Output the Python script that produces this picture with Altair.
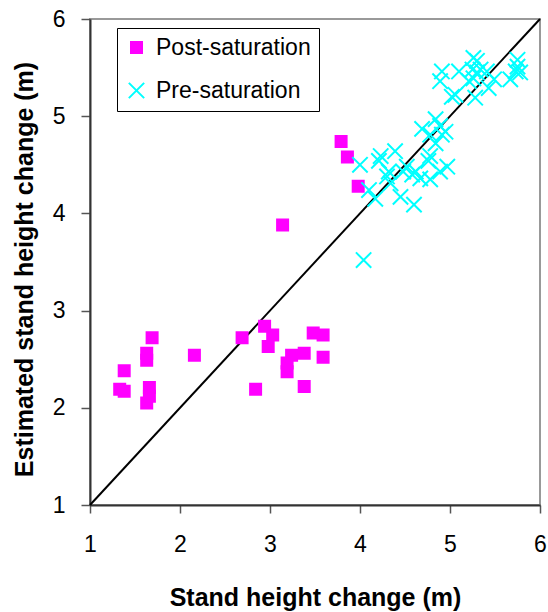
import altair as alt
import pandas as pd

# Post-saturation stands: measured vs estimated height change (m)
post_x = [1.69, 1.63, 1.63, 1.38, 1.33, 1.38, 1.66, 1.66, 1.63, 2.16, 2.69, 2.94, 3.03, 2.98,
          2.84, 3.24, 3.19, 3.19, 3.38, 3.38, 3.48, 3.59, 3.59, 3.79, 3.86, 3.98, 3.14]
post_y = [2.72, 2.56, 2.49, 2.38, 2.19, 2.17, 2.21, 2.12, 2.05, 2.54, 2.72, 2.84, 2.75, 2.63,
          2.19, 2.54, 2.46, 2.37, 2.56, 2.22, 2.77, 2.75, 2.52, 4.74, 4.58, 4.28, 3.88]

# Pre-saturation stands
pre_x = [4.91, 4.89, 5.10, 5.02, 5.06, 5.26, 5.30, 5.25, 5.30, 5.26, 5.21, 5.34, 5.41, 5.28,
         5.43, 5.49, 5.67, 5.75, 5.75, 5.73, 5.78,
         4.69, 4.84, 4.89, 4.95, 4.78, 4.91, 4.84, 4.78, 4.76, 4.97, 4.89, 4.78, 4.62, 4.67,
         4.00, 4.23, 4.21, 4.39, 4.32, 4.30, 4.48, 4.52, 4.58, 4.34, 4.10, 4.17, 4.45, 4.60, 4.04]
pre_y = [5.46, 5.36, 5.46, 5.20, 5.22, 5.60, 5.57, 5.48, 5.45, 5.39, 5.36, 5.48, 5.46, 5.19,
         5.29, 5.38, 5.38, 5.58, 5.51, 5.46, 5.45,
         4.87, 4.97, 4.90, 4.84, 4.81, 4.81, 4.72, 4.59, 4.54, 4.48, 4.43, 4.35, 4.43, 4.36,
         4.50, 4.59, 4.54, 4.64, 4.43, 4.38, 4.43, 4.48, 4.40, 4.31, 4.24, 4.15, 4.17, 4.09, 3.52]

# 1:1 reference line
diag = [1, 6]

groups = ["Post-saturation", "Pre-saturation"]
ticks = [1, 2, 3, 4, 5, 6]

points = pd.DataFrame({
    "x": post_x + pre_x,
    "y": post_y + pre_y,
    "group": [groups[0]] * len(post_x) + [groups[1]] * len(pre_x),
})
line_df = pd.DataFrame({"x": diag, "y": diag})

FONT = "Liberation Sans"

xscale = alt.Scale(domain=[1, 6], nice=False, zero=False)
yscale = alt.Scale(domain=[1, 6], nice=False, zero=False)

xaxis = alt.Axis(title="Stand height change (m)", values=ticks, format="d", grid=False,
                 tickSize=8, labelPadding=20, labelFlush=False, titlePadding=29)
yaxis = alt.Axis(title="Estimated stand height change (m)", values=ticks, format="d", grid=False,
                 tickSize=9, labelPadding=16, labelFlush=False,
                 titleX=-58, titleY=250, titleAngle=270, titleAlign="center",
                 titleBaseline="alphabetic")

legend = alt.Legend(title=None, orient="none", legendX=27, legendY=9,
                    strokeColor="black", fillColor="white", padding=8,
                    rowPadding=18, labelFontSize=23, labelFont=FONT, labelOffset=8,
                    symbolStrokeWidth=2, labelColor="black")

line = alt.Chart(line_df).mark_line(color="black", strokeWidth=2).encode(
    x=alt.X("x:Q", scale=xscale, axis=xaxis),
    y=alt.Y("y:Q", scale=yscale, axis=yaxis),
)

pts = alt.Chart(points).mark_point(filled=False, opacity=1, strokeWidth=2).encode(
    x=alt.X("x:Q", scale=xscale, axis=xaxis),
    y=alt.Y("y:Q", scale=yscale, axis=yaxis),
    shape=alt.Shape("group:N", legend=legend,
                    scale=alt.Scale(domain=groups, range=["square", "M-1,-1L1,1M1,-1L-1,1"])),
    fill=alt.Fill("group:N", legend=legend,
                  scale=alt.Scale(domain=groups, range=["#ff00ff", "transparent"])),
    stroke=alt.Stroke("group:N", legend=legend,
                      scale=alt.Scale(domain=groups, range=["#ff00ff", "#00ffff"])),
    size=alt.Size("group:N", legend=legend,
                  scale=alt.Scale(domain=groups, range=[121, 235])),
)

chart = alt.layer(line, pts).properties(
    width=450, height=486,
    autosize=alt.AutoSizeParams(type="none"),
    padding={"left": 90, "top": 19, "right": 8, "bottom": 107},
    background="white",
).configure_view(
    stroke="#999999", strokeWidth=2
).configure_axis(
    labelFont=FONT, labelFontSize=23, labelColor="black",
    titleFont=FONT, titleFontSize=25, titleFontWeight="bold", titleColor="black",
    domainColor="#333333", domainWidth=2, tickColor="#555555", tickWidth=1.5,
)

chart.save("out.html", embed_options={"renderer": "svg", "actions": False})
